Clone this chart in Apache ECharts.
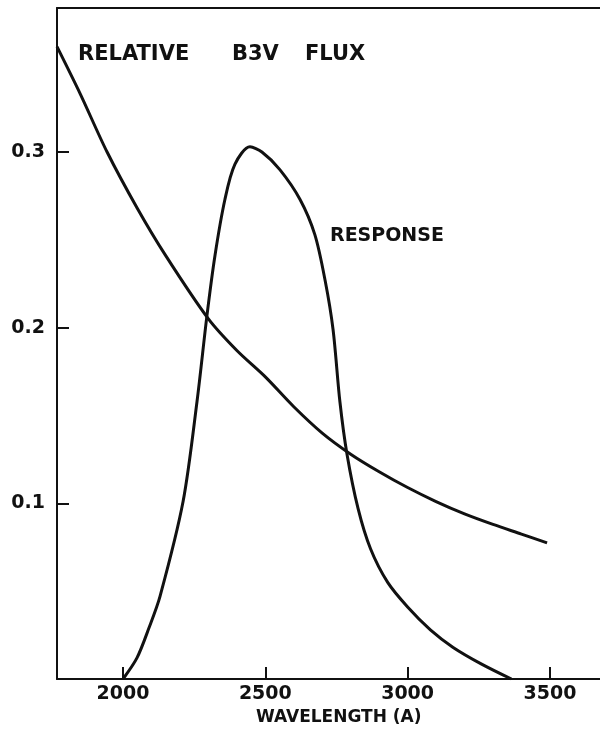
<!DOCTYPE html>
<html>
<head>
<meta charset="utf-8">
<script src="https://cdn.jsdelivr.net/npm/echarts@6/dist/echarts.min.js"></script>
<style>
  html, body { margin: 0; padding: 0; background: #fff; }
  #chart { width: 600px; height: 745px; }
</style>
</head>
<body>
<div id="chart"></div>
<script>
// 刻度
const xTicks = [2000, 2500, 3000, 3500];
const yTicks = [0.1, 0.2, 0.3];

// B3V 相对流量
const fluxWl = [1768, 1850, 1944, 2050, 2150, 2300, 2400, 2500, 2600, 2700, 2800, 2900, 3000, 3100, 3200, 3300, 3400, 3490];
const fluxVal = [0.360, 0.333, 0.300, 0.268, 0.241, 0.205, 0.187, 0.172, 0.155, 0.140, 0.128, 0.118, 0.109, 0.101, 0.094, 0.088, 0.0825, 0.0775];

// 响应曲线
const respWl = [2000, 2049, 2091, 2130, 2211, 2260, 2295, 2323, 2358, 2393, 2446, 2488, 2551, 2622, 2674, 2710, 2738, 2762, 2787, 2826, 2870, 2930, 3000, 3080, 3160, 3260, 3365];
const respVal = [0, 0.012, 0.029, 0.047, 0.101, 0.158, 0.207, 0.241, 0.273, 0.293, 0.303, 0.300, 0.290, 0.273, 0.253, 0.227, 0.199, 0.158, 0.128, 0.097, 0.074, 0.055, 0.041, 0.028, 0.018, 0.0085, 0];

const ink = '#111';
const font = 'DejaVu Sans';

const chart = echarts.init(document.getElementById('chart'));

const pairs = (xs, ys) => xs.map((x, i) => [x, ys[i]]);

const option = {
  backgroundColor: '#fff',
  animation: false,
  grid: { left: 57, right: 0, top: 8, bottom: 66 },
  xAxis: [
    {
      type: 'value',
      min: 1768,
      max: 3676,
      splitLine: { show: false },
      axisLine: { lineStyle: { color: ink, width: 2 } },
      axisTick: { inside: true, length: 12, customValues: xTicks, lineStyle: { color: ink, width: 2 } },
      axisLabel: { customValues: xTicks, color: ink, fontFamily: font, fontWeight: 'bold', fontSize: 19, margin: 6,
        formatter: v => String(v) }
    },
    {
      // 顶部边框
      type: 'value',
      position: 'top',
      min: 1768,
      max: 3676,
      splitLine: { show: false },
      axisLine: { show: true, lineStyle: { color: ink, width: 2 } },
      axisTick: { show: false },
      axisLabel: { show: false }
    }
  ],
  yAxis: {
    type: 'value',
    min: 0,
    max: 0.382,
    splitLine: { show: false },
    axisLine: { show: true, lineStyle: { color: ink, width: 2 } },
    axisTick: { inside: true, length: 12, customValues: yTicks, lineStyle: { color: ink, width: 2 } },
    axisLabel: { customValues: yTicks, color: ink, fontFamily: font, fontWeight: 'bold', fontSize: 19, margin: 12,
      formatter: v => v.toFixed(1) }
  },
  series: [
    {
      name: 'flux',
      type: 'line',
      data: pairs(fluxWl, fluxVal),
      smooth: 0.3,
      showSymbol: false,
      lineStyle: { color: ink, width: 3 }
    },
    {
      name: 'response',
      type: 'line',
      data: pairs(respWl, respVal),
      smooth: 0.3,
      showSymbol: false,
      lineStyle: { color: ink, width: 3 }
    }
  ],
  graphic: [
    { type: 'text', left: 78, top: 44, style: { text: 'RELATIVE', font: 'bold 21px "DejaVu Sans"', fill: ink } },
    { type: 'text', left: 232, top: 44, style: { text: 'B3V', font: 'bold 21px "DejaVu Sans"', fill: ink } },
    { type: 'text', left: 305, top: 44, style: { text: 'FLUX', font: 'bold 21px "DejaVu Sans"', fill: ink } },
    { type: 'text', left: 330, top: 227, style: { text: 'RESPONSE', font: 'bold 19px "DejaVu Sans"', fill: ink } },
    { type: 'text', left: 256, top: 709, style: { text: 'WAVELENGTH (A)', font: 'bold 17px "DejaVu Sans"', fill: ink } }
  ]
};

chart.setOption(option);
</script>
</body>
</html>
